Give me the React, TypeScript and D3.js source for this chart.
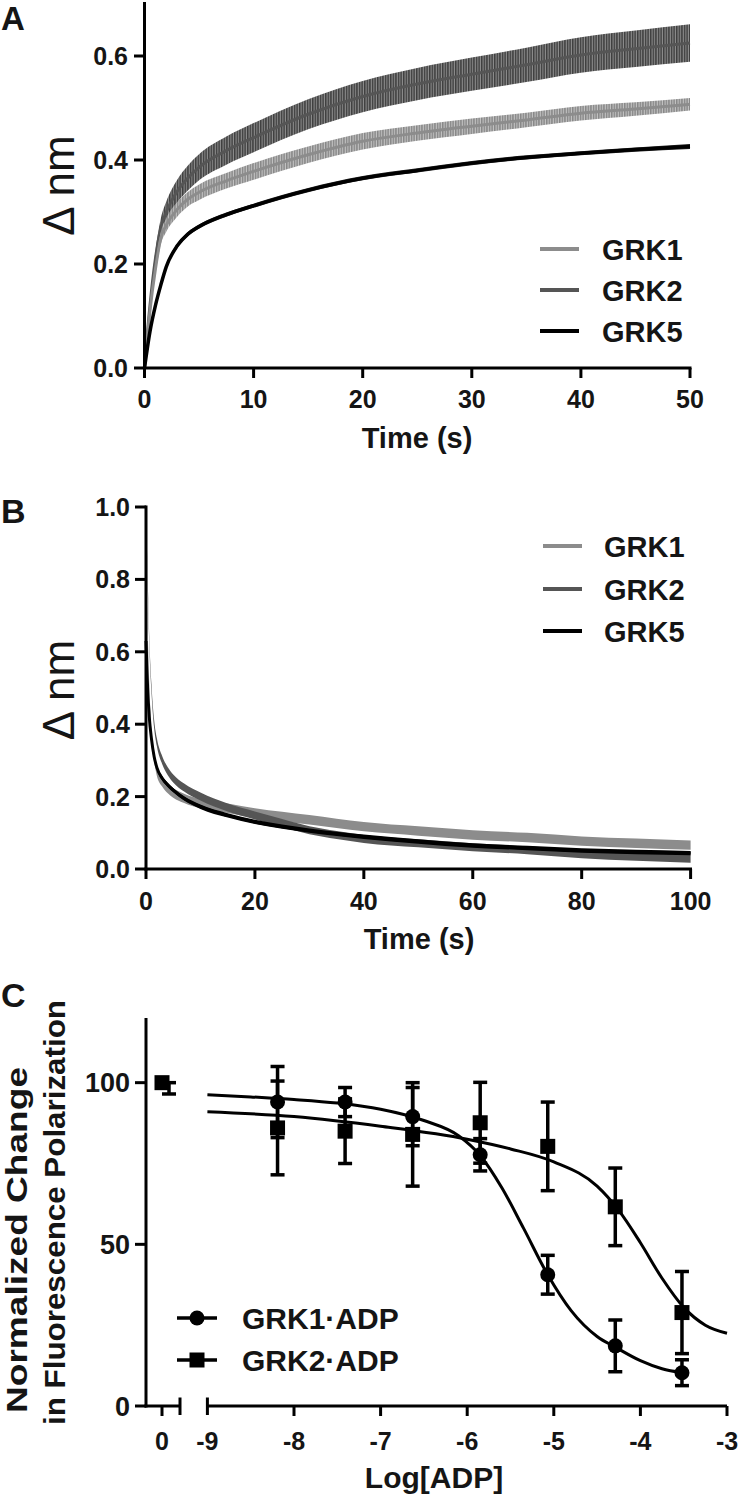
import React from 'react';
import * as d3 from 'd3';

// ---------- Panel A data (association) ----------
const timeA = [0, 0.5, 1, 1.5, 2, 3, 4, 5, 7.5, 10, 15, 20, 25, 30, 35, 40, 45, 50];
const grk1A = [0, 0.11, 0.19, 0.25, 0.275, 0.305, 0.325, 0.338, 0.36, 0.378, 0.41, 0.436, 0.452, 0.465, 0.477, 0.49, 0.498, 0.507];
const grk2A = [0, 0.12, 0.21, 0.27, 0.3, 0.34, 0.366, 0.386, 0.418, 0.443, 0.488, 0.522, 0.546, 0.565, 0.583, 0.602, 0.614, 0.625];
const grk5A = [0, 0.07, 0.12, 0.16, 0.195, 0.235, 0.258, 0.272, 0.295, 0.312, 0.342, 0.365, 0.38, 0.394, 0.405, 0.413, 0.42, 0.426];
const grk1AErr = [0, 0.008, 0.01, 0.012, 0.013, 0.014, 0.014, 0.015, 0.015, 0.016, 0.016, 0.016, 0.015, 0.015, 0.014, 0.014, 0.013, 0.012];
const grk2AErr = [0, 0.01, 0.015, 0.018, 0.02, 0.022, 0.024, 0.025, 0.027, 0.028, 0.029, 0.03, 0.031, 0.032, 0.033, 0.034, 0.035, 0.036];
const grk5AErr = [0, 0.003, 0.004, 0.004, 0.004, 0.004, 0.004, 0.004, 0.004, 0.004, 0.004, 0.004, 0.004, 0.004, 0.004, 0.004, 0.004, 0.005];
const xTicksA = [0, 10, 20, 30, 40, 50];
const yTicksA = [0, 0.2, 0.4, 0.6];

// ---------- Panel B data (dissociation) ----------
const timeB = [0, 0.3, 0.6, 1, 1.5, 2, 3, 4, 5, 7, 10, 15, 20, 25, 30, 35, 40, 50, 60, 70, 80, 90, 100];
const grk1B = [0.84, 0.65, 0.5, 0.37, 0.31, 0.27, 0.24, 0.222, 0.21, 0.195, 0.18, 0.168, 0.155, 0.145, 0.136, 0.126, 0.117, 0.105, 0.094, 0.087, 0.077, 0.071, 0.066];
const grk2B = [1.0, 0.8, 0.63, 0.5, 0.4, 0.35, 0.3, 0.27, 0.25, 0.225, 0.2, 0.17, 0.148, 0.127, 0.107, 0.094, 0.083, 0.071, 0.06, 0.052, 0.041, 0.034, 0.028];
const grk5B = [0.63, 0.5, 0.42, 0.36, 0.31, 0.28, 0.25, 0.232, 0.218, 0.195, 0.172, 0.148, 0.13, 0.117, 0.106, 0.097, 0.089, 0.076, 0.065, 0.058, 0.051, 0.047, 0.044];
const grk1BErr = 0.013;
const grk2BErr = 0.011;
const grk5BErr = 0.006;
const xTicksB = [0, 20, 40, 60, 80, 100];
const yTicksB = [0, 0.2, 0.4, 0.6, 0.8, 1.0];

// ---------- Panel C data (ADP competition) ----------
const logADP = [-8.19, -7.41, -6.63, -5.85, -5.07, -4.29, -3.52];
const grk1Mean = [94, 94, 89.5, 77.7, 40.6, 18.6, 10.3];
const grk1Sem = [11, 4.5, 9, 5, 6, 8, 4];
const grk2Mean = [86, 85, 84, 87.6, 80.3, 61.6, 28.9];
const grk2Sem = [14.5, 10, 16, 12.5, 13.7, 12, 12.7];
const zeroMean = [100];
const zeroSem = [3.5];
const fitX1 = [-9, -8.5, -8, -7.5, -7, -6.5, -6.1, -5.85, -5.6, -5.35, -5.07, -4.8, -4.5, -4.29, -4, -3.75, -3.52];
const fitY1 = [96.3, 95.6, 94.8, 93.7, 91.8, 88.3, 83.6, 77.5, 67.5, 55, 40.6, 29.5, 21.5, 18.2, 14, 11.5, 10.3];
const fitX2 = [-9, -8, -7, -6, -5.5, -5, -4.5, -4.25, -4, -3.75, -3.5, -3.25, -3];
const fitY2 = [91, 89.5, 86.5, 82.5, 79.5, 75.5, 68, 60.5, 50.5, 39.5, 30.5, 25, 22.5];
const xTicksC = [-9, -8, -7, -6, -5, -4, -3];
const yTicksC = [0, 50, 100];

const FONT = '"Liberation Sans", Arial, Helvetica, sans-serif';
const TXT = '#151515';
const C1 = '#8c8c8c';
const C2 = '#555555';
const C5 = '#000000';

type Sc = d3.ScaleLinear<number, number>;

function bandPath(x: Sc, y: Sc, t: number[], v: number[], e: number[]) {
  const idx = t.map((_, i) => i);
  return d3
    .area<number>()
    .x((i) => x(t[i]))
    .y0((i) => y(v[i] - e[i]))
    .y1((i) => y(v[i] + e[i]))
    .curve(d3.curveMonotoneX)(idx) || '';
}
function linePath(x: Sc, y: Sc, t: number[], v: number[]) {
  const idx = t.map((_, i) => i);
  return d3
    .line<number>()
    .x((i) => x(t[i]))
    .y((i) => y(v[i]))
    .curve(d3.curveMonotoneX)(idx) || '';
}

export default function App() {
  // Panel A scales
  const xA = d3.scaleLinear().domain([0, 50]).range([144.5, 690]);
  const yA = d3.scaleLinear().domain([0, 0.7]).range([368, 4]);
  // Panel B scales
  const xB = d3.scaleLinear().domain([0, 100]).range([146, 690.6]);
  const yB = d3.scaleLinear().domain([0, 1]).range([869, 507]);
  // Panel C scales
  const xC = d3.scaleLinear().domain([-9, -3]).range([207.4, 727]);
  const xC0 = d3.scaleLinear().domain([-1, 1]).range([146, 178]);
  const yC = d3.scaleLinear().domain([0, 120]).range([1406, 1018]);

  const fmt1 = d3.format('.1f');

  const legendA = [
    { label: 'GRK1', color: C1 },
    { label: 'GRK2', color: C2 },
    { label: 'GRK5', color: C5 },
  ];
  const legendAY = [249, 290, 331];
  const legendBY = [546, 589, 631];

  const errBar = (cx: number, m: number, s: number, key: string) => (
    <g key={key} stroke="#000" strokeWidth={3.5}>
      <line x1={cx} x2={cx} y1={yC(m - s)} y2={yC(m + s)} />
      <line x1={cx - 7} x2={cx + 7} y1={yC(m - s)} y2={yC(m - s)} />
      <line x1={cx - 7} x2={cx + 7} y1={yC(m + s)} y2={yC(m + s)} />
    </g>
  );

  return (
    <svg
      width={740}
      height={1501}
      style={{ position: 'absolute', left: 0, top: 0, background: '#fff' }}
      fontFamily={FONT}
    >
      <defs>
        <pattern id="hatch2" patternUnits="userSpaceOnUse" width={2.6} height={10}>
          <rect x={0} y={0} width={2.6} height={10} fill="#8e8e8e" />
          <rect x={0} y={0} width={1.5} height={10} fill="#3e3e3e" />
        </pattern>
        <pattern id="hatch1" patternUnits="userSpaceOnUse" width={2.6} height={10}>
          <rect x={0} y={0} width={2.6} height={10} fill="#c4c4c4" />
          <rect x={0} y={0} width={1.5} height={10} fill="#878787" />
        </pattern>
      </defs>

      {/* ================= Panel A ================= */}
      <text x={1} y={30} fontSize={33} fontWeight="bold" fill={TXT}>A</text>
      <g>
        <path d={bandPath(xA, yA, timeA, grk2A, grk2AErr)} fill="url(#hatch2)" />
        <path d={linePath(xA, yA, timeA, grk2A)} fill="none" stroke={C2} strokeWidth={3} />
        <path d={bandPath(xA, yA, timeA, grk1A, grk1AErr)} fill="url(#hatch1)" />
        <path d={linePath(xA, yA, timeA, grk1A)} fill="none" stroke={C1} strokeWidth={3} />
        <path d={bandPath(xA, yA, timeA, grk5A, grk5AErr)} fill="#222" />
        <path d={linePath(xA, yA, timeA, grk5A)} fill="none" stroke={C5} strokeWidth={3.5} />
      </g>
      <g stroke="#000" strokeWidth={3}>
        <line x1={144.5} x2={144.5} y1={369.5} y2={2} />
        <line x1={143} x2={691.5} y1={368} y2={368} />
        {xTicksA.map((t) => (
          <line key={t} x1={xA(t)} x2={xA(t)} y1={368} y2={378} />
        ))}
        {yTicksA.map((t) => (
          <line key={t} x1={134} x2={144.5} y1={yA(t)} y2={yA(t)} />
        ))}
      </g>
      <g fontSize={25} fontWeight="bold" fill={TXT}>
        {xTicksA.map((t) => (
          <text key={t} x={xA(t)} y={408} textAnchor="middle">{t}</text>
        ))}
        {yTicksA.map((t) => (
          <text key={t} x={128} y={yA(t) + 9} textAnchor="end">{fmt1(t)}</text>
        ))}
      </g>
      <text x={417} y={448} fontSize={29} fontWeight="bold" textAnchor="middle" fill={TXT}>Time (s)</text>
      <text transform="translate(74,185.5) rotate(-90)" fontSize={44} textAnchor="middle" fill={TXT}>Δ nm</text>
      {legendA.map((l, i) => (
        <g key={l.label}>
          <line x1={540} x2={579} y1={legendAY[i]} y2={legendAY[i]} stroke={l.color} strokeWidth={4} />
          <text x={602} y={legendAY[i] + 10.5} fontSize={29} fontWeight="bold" fill={TXT}>{l.label}</text>
        </g>
      ))}

      {/* ================= Panel B ================= */}
      <text x={1} y={523} fontSize={34} fontWeight="bold" fill={TXT}>B</text>
      <g>
        <path d={bandPath(xB, yB, timeB, grk1B, timeB.map(() => grk1BErr))} fill={C1} />
        <path d={bandPath(xB, yB, timeB, grk2B, timeB.map(() => grk2BErr))} fill={C2} />
        <path d={bandPath(xB, yB, timeB, grk5B, timeB.map(() => grk5BErr))} fill={C5} />
        <path d={linePath(xB, yB, timeB, grk5B)} fill="none" stroke={C5} strokeWidth={3} />
      </g>
      <g stroke="#000" strokeWidth={3}>
        <line x1={146} x2={146} y1={870.5} y2={505.5} />
        <line x1={144.5} x2={692} y1={869} y2={869} />
        {xTicksB.map((t) => (
          <line key={t} x1={xB(t)} x2={xB(t)} y1={869} y2={879} />
        ))}
        {yTicksB.map((t) => (
          <line key={t} x1={135} x2={146} y1={yB(t)} y2={yB(t)} />
        ))}
      </g>
      <g fontSize={25} fontWeight="bold" fill={TXT}>
        {xTicksB.map((t) => (
          <text key={t} x={xB(t)} y={910} textAnchor="middle">{t}</text>
        ))}
        {yTicksB.map((t) => (
          <text key={t} x={130} y={yB(t) + 9} textAnchor="end">{fmt1(t)}</text>
        ))}
      </g>
      <text x={419} y={949} fontSize={29} fontWeight="bold" textAnchor="middle" fill={TXT}>Time (s)</text>
      <text transform="translate(74,690) rotate(-90)" fontSize={44} textAnchor="middle" fill={TXT}>Δ nm</text>
      {legendA.map((l, i) => (
        <g key={l.label}>
          <line x1={543} x2={582} y1={legendBY[i]} y2={legendBY[i]} stroke={l.color} strokeWidth={4} />
          <text x={604} y={legendBY[i] + 10.5} fontSize={29} fontWeight="bold" fill={TXT}>{l.label}</text>
        </g>
      ))}

      {/* ================= Panel C ================= */}
      <text x={1} y={1007} fontSize={34} fontWeight="bold" fill={TXT}>C</text>
      {/* fitted curves */}
      <path d={linePath(xC, yC, fitX1, fitY1)} fill="none" stroke="#000" strokeWidth={3} />
      <path d={linePath(xC, yC, fitX2, fitY2)} fill="none" stroke="#000" strokeWidth={3} />
      {/* error bars */}
      {logADP.map((x, i) => errBar(xC(x), grk2Mean[i], grk2Sem[i], 'e2' + i))}
      {logADP.map((x, i) => errBar(xC(x), grk1Mean[i], grk1Sem[i], 'e1' + i))}
      {zeroMean.map((m, i) => errBar(xC0(0) + 7, m - zeroSem[i] / 2, zeroSem[i] / 2, 'z' + i))}
      {/* markers */}
      {logADP.map((x, i) => (
        <rect key={'s' + i} x={xC(x) - 7.5} y={yC(grk2Mean[i]) - 7.5} width={15} height={15} fill="#000" />
      ))}
      {logADP.map((x, i) => (
        <circle key={'c' + i} cx={xC(x)} cy={yC(grk1Mean[i])} r={7.5} fill="#000" />
      ))}
      {zeroMean.map((m, i) => (
        <rect key={'z' + i} x={xC0(0) - 7.5} y={yC(m) - 7.5} width={15} height={15} fill="#000" />
      ))}
      {/* axes */}
      <g stroke="#000" strokeWidth={3}>
        <line x1={146} x2={146} y1={1407.5} y2={1018} />
        {yTicksC.map((t) => (
          <line key={t} x1={135} x2={146} y1={yC(t)} y2={yC(t)} />
        ))}
        <line x1={144.5} x2={180} y1={1406} y2={1406} />
        <line x1={180} x2={180} y1={1397.5} y2={1415} />
        <line x1={xC0(0)} x2={xC0(0)} y1={1406} y2={1416} />
        <line x1={xC(-9)} x2={727} y1={1406} y2={1406} />
        <line x1={xC(-9)} x2={xC(-9)} y1={1397.5} y2={1415} />
        {xTicksC.filter((t) => t > -9).map((t) => (
          <line key={t} x1={xC(t)} x2={xC(t)} y1={1406} y2={1416} />
        ))}
      </g>
      <g fontWeight="bold" fill={TXT}>
        {yTicksC.map((t) => (
          <text key={t} x={130} y={yC(t) + 9.5} fontSize={27} textAnchor="end">{t}</text>
        ))}
        <text x={xC0(0)} y={1450} fontSize={25} textAnchor="middle">0</text>
        {xTicksC.map((t) => (
          <text key={t} x={xC(t)} y={1450} fontSize={25} textAnchor="middle">{t}</text>
        ))}
      </g>
      <text x={434} y={1488} fontSize={30} fontWeight="bold" textAnchor="middle" fill={TXT}>Log[ADP]</text>
      <text transform="translate(27,1413) rotate(-90)" fontSize={29} fontWeight="bold" fill={TXT}
        textLength={346} lengthAdjust="spacingAndGlyphs">Normalized Change</text>
      <text transform="translate(65,1425) rotate(-90)" fontSize={30} fontWeight="bold" fill={TXT}
        textLength={425} lengthAdjust="spacingAndGlyphs">in Fluorescence Polarization</text>
      {/* legend C */}
      <g>
        <line x1={177} x2={217} y1={1318} y2={1318} stroke="#000" strokeWidth={3.5} />
        <circle cx={197} cy={1318} r={7.5} fill="#000" />
        <text x={242} y={1329} fontSize={30} fontWeight="bold" fill={TXT}>GRK1·ADP</text>
        <line x1={177} x2={217} y1={1360} y2={1360} stroke="#000" strokeWidth={3.5} />
        <rect x={189.5} y={1352.5} width={15} height={15} fill="#000" />
        <text x={242} y={1371} fontSize={30} fontWeight="bold" fill={TXT}>GRK2·ADP</text>
      </g>
    </svg>
  );
}
